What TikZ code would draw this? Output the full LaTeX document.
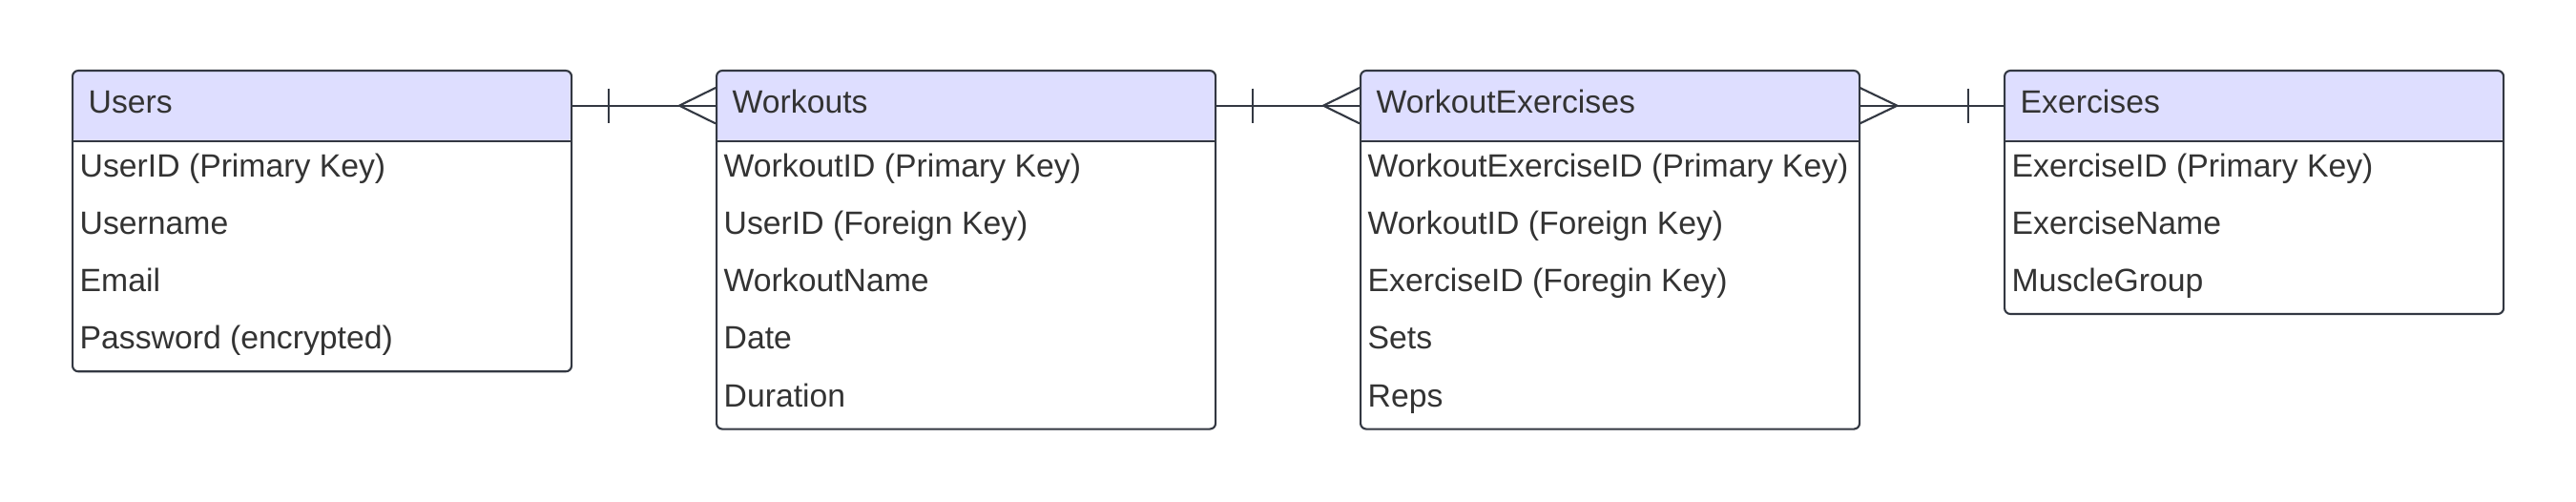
\documentclass[tikz,border=0pt]{standalone}
\usepackage{fontspec}
\setmainfont{Liberation Sans}
\usetikzlibrary{calc,positioning,decorations.pathreplacing}
\definecolor{erLine}{RGB}{51,56,66}
\definecolor{erText}{RGB}{51,51,51}
\definecolor{erHead}{RGB}{222,222,255}
\tikzset{
  er text/.style={font=\fontsize{9.6}{11}\selectfont, text=erText, text height=.72em, text depth=.095cm},
  entity box/.style={draw=erLine, line width=.6pt, rounded corners=.06cm, fill=white,
    inner sep=0pt, anchor=north west, minimum width=5.23cm, minimum height={.74cm+#1*.603cm},
    path picture={
      \fill[erHead] (path picture bounding box.north west) rectangle ([yshift=-.74cm]path picture bounding box.north east);
      \draw[erLine, line width=.6pt] ([yshift=-.74cm]path picture bounding box.north west) -- ([yshift=-.74cm]path picture bounding box.north east);
    }},
  entity head/.style={er text, inner sep=0pt, inner xsep=.17cm, text width=4.89cm, minimum height=.74cm,
    align=left, anchor=north west},
  entity row/.style={er text, inner sep=0pt, anchor=west},
  er link/.style={draw=erLine, line width=.6pt},
  one to many/.style={
    postaction={
      decoration={
        show path construction,
        lineto code={
          \draw[er link] ($ (\tikzinputsegmentfirst)!.39cm!(\tikzinputsegmentlast) $) ++(0,.18) -- ++(0,-.36);
          \coordinate (erFootTip) at ($ (\tikzinputsegmentlast)!.38cm!(\tikzinputsegmentfirst) $);
          \draw[er link] ($ (\tikzinputsegmentlast)+(0,.187) $) -- (erFootTip) -- ($ (\tikzinputsegmentlast)+(0,-.187) $);
        }
      },
      decorate,
    }
  },
  many to one/.style={
    postaction={
      decoration={
        show path construction,
        lineto code={
          \draw[er link] ($ (\tikzinputsegmentlast)!.37cm!(\tikzinputsegmentfirst) $) ++(0,.18) -- ++(0,-.36);
          \coordinate (erFootTip) at ($ (\tikzinputsegmentfirst)!.39cm!(\tikzinputsegmentlast) $);
          \draw[er link] ($ (\tikzinputsegmentfirst)+(0,.187) $) -- (erFootTip) -- ($ (\tikzinputsegmentfirst)+(0,-.187) $);
        }
      },
      decorate,
    }
  },
}

\begin{document}
\begin{tikzpicture}
\useasboundingbox (0,0) rectangle (27,5.25);

% Users
\node[entity box=4] (usersBox) at (.75,4.52) {};
\node[entity head] (usersHead) at (usersBox.north west) {Users};
\foreach \txt [count=\i] in {UserID (Primary Key),Username,Email,Password (encrypted)}
  \node[entity row] (usersRow\i) at ($(usersBox.north west)+(.08,{-.74-(\i-.5)*.603})$) {\txt};

% Workouts
\node[entity box=5] (workoutsBox) at (7.50,4.52) {};
\node[entity head] (workoutsHead) at (workoutsBox.north west) {Workouts};
\foreach \txt [count=\i] in {WorkoutID (Primary Key),UserID (Foreign Key),WorkoutName,Date,Duration}
  \node[entity row] (workoutsRow\i) at ($(workoutsBox.north west)+(.08,{-.74-(\i-.5)*.603})$) {\txt};

% WorkoutExercises
\node[entity box=5] (weBox) at (14.25,4.52) {};
\node[entity head] (weHead) at (weBox.north west) {WorkoutExercises};
\foreach \txt [count=\i] in {WorkoutExerciseID (Primary Key),WorkoutID (Foreign Key),ExerciseID (Foregin Key),Sets,Reps}
  \node[entity row] (weRow\i) at ($(weBox.north west)+(.08,{-.74-(\i-.5)*.603})$) {\txt};

% Exercises
\node[entity box=3] (exercisesBox) at (21.00,4.52) {};
\node[entity head] (exercisesHead) at (exercisesBox.north west) {Exercises};
\foreach \txt [count=\i] in {ExerciseID (Primary Key),ExerciseName,MuscleGroup}
  \node[entity row] (exercisesRow\i) at ($(exercisesBox.north west)+(.08,{-.74-(\i-.5)*.603})$) {\txt};

% relations
\draw[er link, one to many] (usersHead.east) -- (workoutsHead.west);
\draw[er link, one to many] (workoutsHead.east) -- (weHead.west);
\draw[er link, many to one] (weHead.east) -- (exercisesHead.west);
\end{tikzpicture}
\end{document}
